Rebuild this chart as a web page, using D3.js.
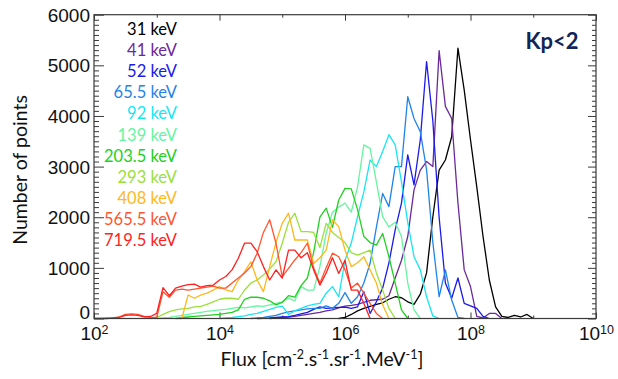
<!DOCTYPE html>
<html>
<head>
<meta charset="utf-8">
<script src="https://cdn.jsdelivr.net/npm/d3@7"></script>
<style>
  body { margin: 0; background: #fff; }
  svg { display: block; font-family: Lato, "Open Sans", sans-serif; }
</style>
</head>
<body>
<div id="chart"></div>
<script>
// energy channels and their colours
const energies = ["31 keV", "41 keV", "52 keV", "65.5 keV", "92 keV", "139 keV",
  "203.5 keV", "293 keV", "408 keV", "565.5 keV", "719.5 keV"];
const colors = ["#000000", "#6b2a9a", "#1a1aee", "#1f84e8", "#18e6f2", "#66f5a0",
  "#22d022", "#9be03a", "#ffb81c", "#ff5530", "#ff1f1f"];

// log10(flux) of the first bin of each histogram, bins are 0.1 decade wide
const binStart = [5.9, 4.8, 4.6, 4.5, 4.0, 3.0, 3.3, 2.9, 3.3, 2.0, 2.0];

// number of points per bin
const counts31 = [0, 20, 80, 150, 200, 240, 280, 310, 380, 430, 410, 330, 280, 480, 900, 2010,
  2930, 3130, 3590, 5340, 4510, 3530, 2600, 1620, 760, 230, 40, 20, 60, 30, 80, 0];
const counts41 = [0, 10, 20, 30, 40, 60, 80, 100, 120, 150, 170, 210, 245, 260, 280, 320, 360,
  370, 380, 450, 800, 1150, 1620, 2540, 2930, 3100, 3000, 5290, 4190, 3950, 2280, 960, 630,
  40, 10, 100, 100, 0];
const counts52 = [0, 5, 10, 20, 30, 36, 60, 90, 120, 180, 230, 200, 210, 220, 225, 200, 230,
  530, 100, 330, 600, 1100, 1750, 2280, 3230, 2640, 3530, 5075, 3900, 2000, 700, 400, 800,
  300, 250, 200, 40, 0];
const counts65 = [0, 10, 20, 40, 60, 100, 130, 150, 170, 190, 200, 200, 250, 200, 300, 510,
  300, 430, 700, 1090, 1800, 2470, 2210, 3000, 3000, 4380, 3950, 3690, 2940, 1500, 430, 960,
  365, 20, 0];
const counts92 = [0, 10, 20, 35, 50, 80, 100, 140, 180, 220, 245, 80, 150, 200, 250, 280, 300,
  500, 630, 430, 1150, 1490, 2010, 2500, 3130, 3000, 3300, 3630, 3430, 2700, 1900, 1220, 960,
  430, 50, 0];
const counts139 = [0, 10, 20, 40, 60, 80, 100, 120, 140, 155, 170, 180, 200, 220, 210, 230,
  250, 240, 267, 300, 330, 400, 350, 630, 560, 560, 1025, 1680, 2100, 2200, 2280, 2100, 2600,
  3430, 3360, 2700, 2010, 1810, 1900, 1620, 700, 170, 0];
const counts203 = [0, 20, 30, 40, 50, 60, 70, 80, 100, 120, 170, 380, 420, 420, 400, 350, 270,
  320, 450, 420, 650, 800, 1300, 2000, 2180, 1800, 2340, 2570, 2560, 2150, 1620, 1500, 1450,
  1680, 1220, 700, 170, 0];
const counts293 = [0, 20, 80, 135, 170, 190, 200, 230, 240, 280, 330, 380, 400, 400, 380, 563,
  700, 760, 860, 980, 1120, 1486, 1900, 2080, 1715, 1715, 1700, 1400, 1880, 1700, 1600, 1500,
  1300, 1250, 1300, 1350, 900, 560, 200, 0];
const counts408 = [0, 0, 465, 400, 460, 500, 560, 630, 563, 530, 760, 925, 1120, 760, 530,
  1025, 1500, 1880, 2080, 1550, 1550, 1550, 1090, 1200, 1350, 1950, 1815, 1350, 1025, 1100,
  1220, 960, 700, 270, 0];
const counts565 = [0, 0, 5, 10, 30, 80, 90, 80, 40, 20, 20, 530, 420, 560, 580, 560, 580, 600,
  620, 640, 600, 600, 700, 800, 900, 1025, 1290, 1700, 1950, 1486, 825, 990, 1156, 1300, 1486,
  1000, 695, 1000, 1290, 1220, 960, 600, 700, 500, 300, 100, 0];
const counts719 = [0, 0, 0, 10, 20, 60, 70, 60, 30, 40, 100, 610, 450, 600, 640, 670, 680, 620,
  650, 660, 760, 830, 960, 1190, 1490, 1490, 1320, 1025, 760, 960, 800, 1350, 1350, 1200, 1300,
  960, 660, 900, 1200, 890, 1150, 560, 560, 300, 0];

const allCounts = [counts31, counts41, counts52, counts65, counts92, counts139, counts203,
  counts293, counts408, counts565, counts719];

const xMajor = [1e2, 1e4, 1e6, 1e8, 1e10];
const xMinor = [1e3, 1e5, 1e7, 1e9];
const yMajor = [0, 1000, 2000, 3000, 4000, 5000, 6000];

const W = 618, H = 379;
const margin = { top: 14.7, right: 22, bottom: 60.5, left: 94 };

const svg = d3.select("#chart").append("svg")
  .attr("width", W)
  .attr("height", H);

const x = d3.scaleLog()
  .domain([1e2, 1e10])
  .range([margin.left, W - margin.right]);

const y = d3.scaleLinear()
  .domain([0, 6000])
  .range([H - margin.bottom, margin.top]);

const yMinor = d3.range(0, 6001, 100).filter(v => v % 1000 !== 0);

const axisColor = "#3a3a3a";

function styleAxis(g) {
  g.select(".domain").remove();
  g.selectAll(".tick line").attr("stroke", axisColor);
}

// left
svg.append("g").attr("transform", `translate(${margin.left},0)`)
  .call(d3.axisLeft(y).tickValues(yMinor).tickSize(-5).tickFormat(""))
  .call(styleAxis);
svg.append("g").attr("transform", `translate(${margin.left},0)`)
  .call(d3.axisLeft(y).tickValues(yMajor).tickSize(-10).tickPadding(4).tickFormat(d3.format("d")))
  .call(styleAxis)
  .call(g => g.selectAll(".tick text")
    .attr("fill", "#111")
    .style("font-size", "19px")
    .attr("dy", d => d === 0 ? "0.0em" : "0.34em"));

// right
svg.append("g").attr("transform", `translate(${W - margin.right},0)`)
  .call(d3.axisRight(y).tickValues(yMinor).tickSize(-4).tickFormat(""))
  .call(styleAxis);
svg.append("g").attr("transform", `translate(${W - margin.right},0)`)
  .call(d3.axisRight(y).tickValues(yMajor).tickSize(-8).tickFormat(""))
  .call(styleAxis);

// bottom
svg.append("g").attr("transform", `translate(0,${H - margin.bottom})`)
  .call(d3.axisBottom(x).tickValues(xMinor).tickSize(-3).tickFormat(""))
  .call(styleAxis);
const xAx = svg.append("g").attr("transform", `translate(0,${H - margin.bottom})`)
  .call(d3.axisBottom(x).tickValues(xMajor).tickSize(-6).tickPadding(8).tickFormat(""))
  .call(styleAxis);
xAx.selectAll(".tick text")
  .attr("fill", "#111")
  .attr("dy", "0.71em")
  .style("font-size", "19px")
  .each(function (d) {
    const t = d3.select(this);
    t.append("tspan").text("10");
    t.append("tspan").text(Math.round(Math.log10(d)))
      .attr("dy", "-0.45em")
      .style("font-size", "12.5px");
  });

// top
svg.append("g").attr("transform", `translate(0,${margin.top})`)
  .call(d3.axisTop(x).tickValues(xMinor).tickSize(-3).tickFormat(""))
  .call(styleAxis);
svg.append("g").attr("transform", `translate(0,${margin.top})`)
  .call(d3.axisTop(x).tickValues(xMajor).tickSize(-6).tickFormat(""))
  .call(styleAxis);

// histograms
const line = d3.line()
  .x(d => x(d.flux))
  .y(d => y(d.n));

allCounts.forEach((counts, k) => {
  const pts = counts.map((n, i) => ({ flux: Math.pow(10, binStart[k] + i * 0.1), n: n }));
  svg.append("path")
    .datum(pts)
    .attr("d", line)
    .attr("fill", "none")
    .attr("stroke", colors[k])
    .attr("stroke-width", 1.3)
    .attr("stroke-linejoin", "round");
});

// frame
svg.append("rect")
  .attr("x", margin.left)
  .attr("y", margin.top)
  .attr("width", W - margin.right - margin.left)
  .attr("height", H - margin.bottom - margin.top)
  .attr("fill", "none")
  .attr("stroke", axisColor)
  .attr("stroke-width", 1.2);

// legend
svg.append("g").selectAll("text")
  .data(energies)
  .enter().append("text")
  .attr("x", 177)
  .attr("y", (d, i) => 35 + i * 21.1)
  .attr("text-anchor", "end")
  .attr("fill", (d, i) => colors[i])
  .style("font-size", "16.5px")
  .text(d => d);

svg.append("text")
  .attr("x", 552)
  .attr("y", 49)
  .attr("text-anchor", "middle")
  .attr("fill", "#132456")
  .style("font-size", "22px")
  .style("font-weight", "bold")
  .text("Kp<2");

// axis titles
svg.append("text")
  .attr("transform", "translate(27,170) rotate(-90)")
  .attr("text-anchor", "middle")
  .attr("fill", "#111")
  .style("font-size", "19.5px")
  .text("Number of points");

const xt = svg.append("text")
  .attr("x", 322)
  .attr("y", 366)
  .attr("text-anchor", "middle")
  .attr("fill", "#111")
  .style("font-size", "19.5px");
const titleParts = [["Flux [cm", false], ["-2", true], [".s", false], ["-1", true],
  [".sr", false], ["-1", true], [".MeV", false], ["-1", true], ["]", false]];
titleParts.forEach(([s, sup], i) => {
  const prevSup = i > 0 && titleParts[i - 1][1];
  xt.append("tspan")
    .text(s)
    .attr("dy", sup ? "-7" : (prevSup ? "7" : null))
    .style("font-size", sup ? "12.5px" : null);
});
</script>
</body>
</html>
